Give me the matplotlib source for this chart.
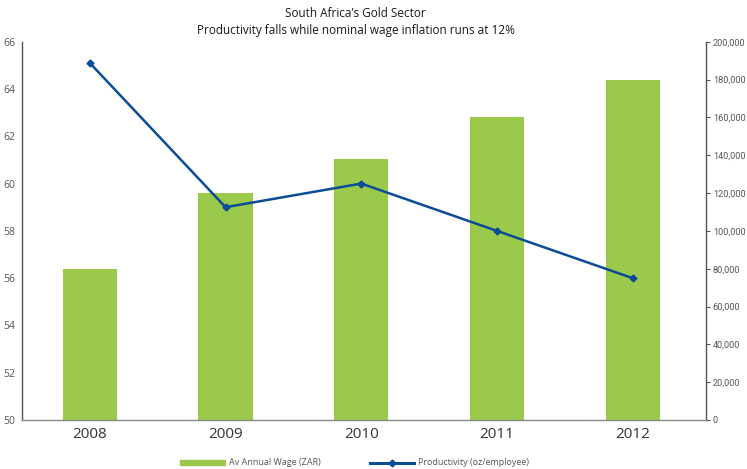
import matplotlib
matplotlib.use("Agg")
import matplotlib.pyplot as plt
from matplotlib.lines import Line2D
from matplotlib.patches import Patch

years = ["2008", "2009", "2010", "2011", "2012"]
wage = [80000, 120000, 138000, 160000, 180000]
productivity = [65.1, 59.0, 60.0, 58.0, 56.0]
left_ticks = [50, 52, 54, 56, 58, 60, 62, 64, 66]
right_ticks = [0, 20000, 40000, 60000, 80000, 100000, 120000, 140000, 160000, 180000, 200000]

GREEN = "#9BC94B"
BLUE = "#0B4C97"
GRAY = "#555555"

plt.rcParams['font.family'] = ['Open Sans', 'DejaVu Sans']

fig = plt.figure(figsize=(7.47, 4.69), dpi=100)
ax = fig.add_axes([0.0295, 0.1045, 0.9155, 0.8065])
ax2 = ax.twinx()

x = list(range(len(years)))
ax2.bar(x, wage, width=0.4, color=GREEN, zorder=1)
ax2.set_ylim(0, 200000)
ax2.set_yticks(right_ticks)
ax2.set_yticklabels([f"{v:,}" for v in right_ticks], fontsize=6.6, color=GRAY,
                    family=['Roboto', 'DejaVu Sans'])
ax2.tick_params(axis='y', length=3, width=0.8, color=GRAY, pad=2)

ax.set_zorder(ax2.get_zorder() + 1)
ax.patch.set_visible(False)
ax.plot(x, productivity, color=BLUE, lw=1.8, marker='D', ms=3.5, zorder=3)
ax.set_ylim(50, 66)
ax.set_yticks(left_ticks)
ax.set_yticklabels([str(v) for v in left_ticks], fontsize=7.5, color=GRAY)
ax.tick_params(axis='y', length=0, pad=5)
ax.set_xlim(-0.50, 4.54)
ax.set_xticks(x)
ax.set_xticklabels(years, fontsize=11, color="#333333")
ax.tick_params(axis='x', length=0, pad=5)

for a in (ax, ax2):
    a.spines['top'].set_visible(False)
    for s in ('left', 'right', 'bottom'):
        a.spines[s].set_color(GRAY)
        a.spines[s].set_linewidth(1.0)
ax.spines['right'].set_visible(False)
ax2.spines['left'].set_visible(False)
ax2.spines['bottom'].set_visible(False)
ax.spines['bottom'].set_color("#888888")

fig.text(0.476, 0.972, "South Africa\u2019s Gold Sector", ha='center', va='center',
         fontsize=8.5, color="#1a1a1a", fontweight='medium')
fig.text(0.476, 0.935, "Productivity falls while nominal wage inflation runs at 12%", ha='center', va='center',
         fontsize=8.5, color="#1a1a1a", fontweight='medium')

handles = [Patch(color=GREEN, label="Av Annual Wage (ZAR)"),
           Line2D([0], [0], color=BLUE, lw=2.2, marker='D', ms=3.5, label="Productivity (oz/employee)")]
leg = fig.legend(handles=handles, loc='center', bbox_to_anchor=(0.475, 0.013), ncol=2, frameon=False,
                 fontsize=6.5, handlelength=4.9, handleheight=0.5, columnspacing=5.4, handletextpad=0.5)
for t in leg.get_texts():
    t.set_color(GRAY)

fig.savefig("out.png", dpi=100)
